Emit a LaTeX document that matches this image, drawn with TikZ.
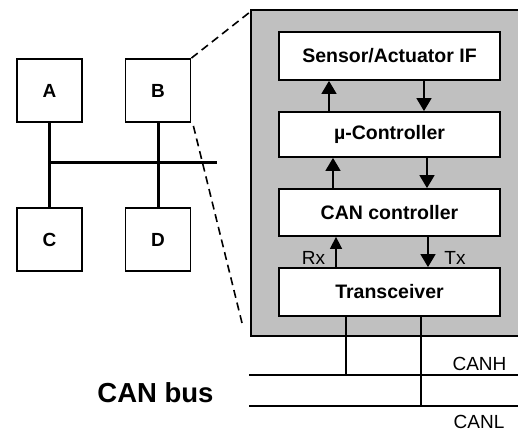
\documentclass[tikz,border=0pt]{standalone}
\usepackage{fontspec}
\setmainfont{Liberation Sans}
\usetikzlibrary{arrows.meta}
\definecolor{boxgray}{RGB}{192,192,192}
\begin{document}
\begin{tikzpicture}[x=1pt,y=-1pt,
  nodebox/.style={draw,line width=1.8pt,fill=white,minimum width=65pt,minimum height=63pt,inner sep=0pt,font=\fontsize{19}{21}\selectfont\bfseries},
  layerbox/.style={draw,line width=1.8pt,fill=white,minimum width=221pt,inner sep=0pt,font=\fontsize{19.5}{21}\selectfont\bfseries},
  arr/.style={line width=1.6pt,-{Triangle[width=15pt,length=13pt]}},
  sarr/.style={line width=1.6pt,-{Triangle[width=12pt,length=12pt]}},
  lbl/.style={font=\fontsize{19}{21}\selectfont,inner sep=0pt,anchor=base},
  busline/.style={line width=1.6pt},
  dashline/.style={line width=1.6pt,dash pattern=on 8pt off 5pt}]
\useasboundingbox (0,0) rectangle (518,431);
% left nodes
\node[nodebox] (A) at (49.5,90.5) {A};
\node[nodebox] (B) at (158,90.5) {B};
\node[nodebox] (C) at (49.5,239.5) {C};
\node[nodebox] (D) at (158,239.5) {D};
\draw[line width=3pt] (A) -- (C);
\draw[line width=3pt] (B) -- (D);
\coordinate (busL) at (49,162);
\coordinate (busR) at (217,162);
\draw[line width=3pt] (busL) -- (busR);
% gray enclosure
\fill[boxgray] (251,10) rectangle (530,336);
\draw[line width=1.8pt] (530,10) -- (251,10) -- (251,336) -- (530,336);
\coordinate (gTL) at (250,12);
\coordinate (gBL) at (242,323);
\draw[dashline] (B.north east) -- (gTL);
\draw[dashline] ([xshift=2pt,yshift=-3pt]B.south east) -- (gBL);
% layers
\node[layerbox,minimum height=48pt] (sens) at (389.5,56) {Sensor/Actuator IF};
\node[layerbox,minimum height=45pt] (mu) at (389.5,134.5) {µ-Controller};
\node[layerbox,minimum height=47pt] (can) at (389.5,212.5) {CAN controller};
\node[layerbox,minimum height=48pt] (trx) at (389.5,292) {Transceiver};
\draw[arr] ([xshift=-60.5pt]mu.north) -- ([xshift=-60.5pt]sens.south);
\draw[arr] ([xshift=34.5pt]sens.south) -- ([xshift=34.5pt]mu.north);
\draw[arr] ([xshift=-56.5pt]can.north) -- ([xshift=-56.5pt]mu.south);
\draw[arr] ([xshift=37.5pt]mu.south) -- ([xshift=37.5pt]can.north);
\draw[sarr] ([xshift=-53.5pt]trx.north) -- ([xshift=-53.5pt]can.south);
\draw[arr] ([xshift=38.5pt]can.south) -- ([xshift=38.5pt]trx.north);
\node[lbl] (rx) at (313.5,264) {Rx};
\node[lbl] (tx) at (455,264) {Tx};
% bus
\coordinate (hL) at (249,375);
\coordinate (hR) at (520,375);
\coordinate (lL) at (249,406);
\coordinate (lR) at (520,406);
\draw[busline] (hL) -- (hR);
\draw[busline] (lL) -- (lR);
\coordinate (t1) at (346,375);
\coordinate (t2) at (421,406);
\draw[busline] (trx.south -| t1) -- (t1);
\draw[busline] (trx.south -| t2) -- (t2);
\node[lbl] (canh) at (479.5,370) {CANH};
\node[lbl] (canl) at (479,428) {CANL};
\node[lbl,font=\fontsize{27.5}{30}\selectfont\bfseries] (canbus) at (155.5,402) {CAN bus};
\end{tikzpicture}
\end{document}
